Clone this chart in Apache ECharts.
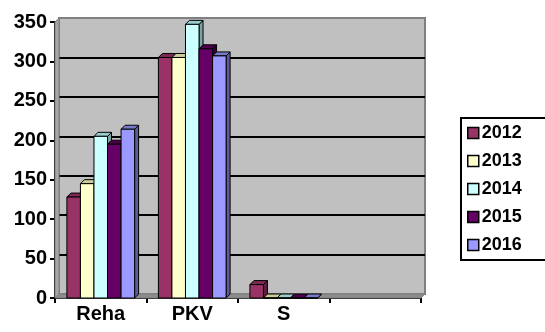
<!DOCTYPE html>
<html>
<head>
<meta charset="utf-8">
<script src="https://cdn.jsdelivr.net/npm/echarts@6/dist/echarts.min.js"></script>
<style>
  html, body { margin: 0; padding: 0; background: #fff; }
  #chart { width: 545px; height: 332px; }
</style>
</head>
<body>
<div id="chart"></div>
<script>
// Categories along the x axis (the fourth slot is an empty category)
const categories = ['Reha', 'PKV', 'S', ''];
// One series per year
const years = ['2012', '2013', '2014', '2015', '2016'];
const values2012 = [128, 305, 17];
const values2013 = [145, 305, 0];
const values2014 = [205, 347, 0];
const values2015 = [195, 316, 0];
const values2016 = [214, 307, 0];
const yTicks = [0, 50, 100, 150, 200, 250, 300, 350];

const seriesValues = [values2012, values2013, values2014, values2015, values2016];
// front, top, side face colours for each year
const palette = [
  ['#993366', '#7d2953', '#5e1f3e'],
  ['#ffffcc', '#cccc99', '#a3a37a'],
  ['#ccffff', '#99cccc', '#7aa3a3'],
  ['#660066', '#4d004d', '#330033'],
  ['#9999ff', '#7a7acc', '#5c5c99']
];

const DX = 4, DY = 4;          // oblique depth of the 3-D boxes
const yMin = yTicks[0], yMax = yTicks[yTicks.length - 1], yStep = yTicks[1] - yTicks[0];

function barRenderer(k) {
  return function (params, api) {
    const cat = api.value(0);
    const v = api.value(1);
    const base = api.coord([cat, 0]);
    const top = api.coord([cat, v]);
    const catW = api.size([1, 0])[0];
    const w = catW * 0.148;
    const x = base[0] - 2.5 * w + k * w;
    const ty = top[1], by = base[1];
    const c = palette[k];
    const stroke = { stroke: '#000', lineWidth: 1, lineJoin: 'miter' };
    return {
      type: 'group',
      children: [
        { type: 'polygon', shape: { points: [[x + w, ty], [x + w + DX, ty - DY], [x + w + DX, by - DY], [x + w, by]] },
          style: Object.assign({ fill: c[2] }, stroke) },
        { type: 'polygon', shape: { points: [[x, ty], [x + DX, ty - DY], [x + w + DX, ty - DY], [x + w, ty]] },
          style: Object.assign({ fill: c[1] }, stroke) },
        { type: 'rect', shape: { x: x, y: ty, width: w, height: by - ty },
          style: Object.assign({ fill: c[0] }, stroke) }
      ]
    };
  };
}

// Side wall and floor of the 3-D plot box
function wallRenderer(params, api) {
  const catW = api.size([1, 0])[0];
  const first = api.coord([0, yMin]);
  const last = api.coord([categories.length - 1, yMin]);
  const topY = api.coord([0, yMax])[1];
  const lx = first[0] - catW / 2, rx = last[0] + catW / 2, by = first[1];
  return {
    type: 'group',
    children: [
      { type: 'polygon', shape: { points: [[lx, topY], [lx + DX, topY - DY], [lx + DX, by - DY], [lx, by]] },
        style: { fill: '#a6a6a6', stroke: '#808080', lineWidth: 1 } },
      { type: 'polygon', shape: { points: [[lx, by], [lx + DX, by - DY], [rx + DX, by - DY], [rx, by]] },
        style: { fill: '#8c8c8c', stroke: '#808080', lineWidth: 1 } }
    ]
  };
}

const labelFont = { fontFamily: 'Liberation Sans, Arial, sans-serif', fontWeight: 'bold', color: '#000' };

const series = [{
  type: 'custom',
  xAxisIndex: 0, yAxisIndex: 0,
  renderItem: wallRenderer,
  data: [[0, 0]],
  silent: true,
  z: 1
}];
years.forEach(function (yr, k) {
  series.push({
    name: yr,
    type: 'custom',
    xAxisIndex: 0, yAxisIndex: 0,
    renderItem: barRenderer(k),
    itemStyle: { color: palette[k][0] },
    encode: { x: 0, y: 1 },
    data: seriesValues[k].map(function (v, i) { return [i, v]; }),
    z: 3
  });
});

const chart = echarts.init(document.getElementById('chart'), null, { renderer: 'canvas' });
chart.setOption({
  animation: false,
  backgroundColor: '#fff',
  grid: [
    { left: 55, right: 124, top: 22, bottom: 34 },
    { left: 59, right: 120, top: 18, bottom: 38, show: true,
      backgroundColor: '#c0c0c0', borderColor: '#808080', borderWidth: 2 }
  ],
  xAxis: [
    { type: 'category', gridIndex: 0, data: categories, boundaryGap: true,
      axisLine: { lineStyle: { color: '#000', width: 2 } },
      axisTick: { show: true, length: 5, lineStyle: { color: '#000', width: 2 } },
      axisLabel: Object.assign({ fontSize: 20, margin: 6, interval: 0 }, labelFont) },
    { type: 'category', gridIndex: 1, data: categories, show: false }
  ],
  yAxis: [
    { type: 'value', gridIndex: 0, min: yMin, max: yMax, interval: yStep,
      axisLine: { show: true, lineStyle: { color: '#000', width: 2 } },
      axisTick: { show: true, length: 5, lineStyle: { color: '#000', width: 2 } },
      splitLine: { show: false },
      axisLabel: Object.assign({ fontSize: 20, margin: 8 }, labelFont) },
    { type: 'value', gridIndex: 1, min: yMin, max: yMax, interval: yStep,
      axisLine: { show: false }, axisTick: { show: false }, axisLabel: { show: false },
      splitLine: { show: true, showMinLine: false, showMaxLine: false, lineStyle: { color: '#000', width: 2 } } }
  ],
  legend: {
    orient: 'vertical',
    left: 461, top: 118,
    data: years,
    icon: 'rect',
    itemWidth: 11, itemHeight: 11,
    itemGap: 10,
    padding: [6, 30, 6, 6],
    borderColor: '#000', borderWidth: 2, borderRadius: 0,
    itemStyle: { borderColor: '#000', borderWidth: 1.5 },
    textStyle: Object.assign({ fontSize: 18, lineHeight: 18, padding: [0, 0, 0, -2] }, labelFont),
    selectedMode: false
  },
  series: series
});
</script>
</body>
</html>
